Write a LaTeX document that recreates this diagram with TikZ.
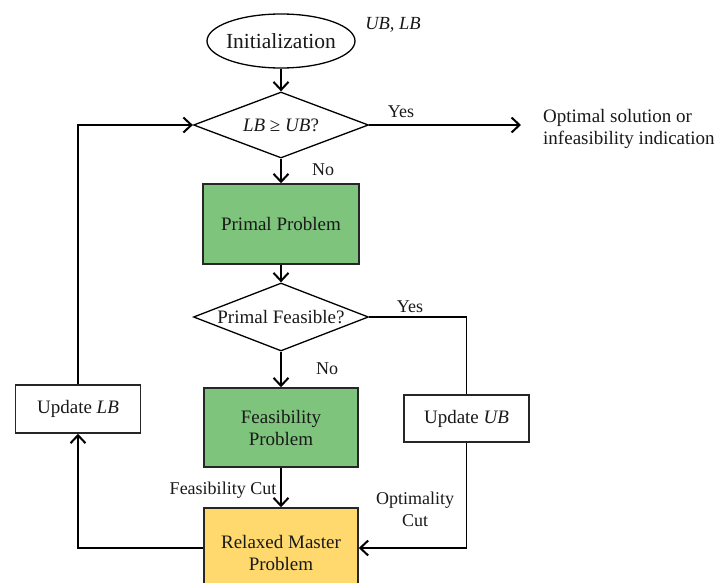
\documentclass[tikz,border=0pt]{standalone}
\usepackage{fontspec}
\setmainfont{Liberation Serif}
\usetikzlibrary{shapes.geometric,arrows.meta}
\definecolor{boxgreen}{RGB}{126,196,124}
\definecolor{boxyellow}{RGB}{255,217,110}
\begin{document}
\begin{tikzpicture}[x=1pt,y=-1pt,
  txt/.style={font=\fontsize{19}{22}\selectfont, text=black!90, inner sep=0pt, align=center},
  lbl/.style={font=\fontsize{18}{21}\selectfont, text=black!90, inner sep=0pt},
  boxstyle/.style={draw=black!85, line width=1.5pt, rectangle, inner sep=0pt},
  dia/.style={draw=black, line width=1.3pt, diamond, inner sep=0pt},
  conn/.style={draw=black, line width=1.4pt},
  arr/.style={conn, -{Straight Barb[length=8pt,width=15pt,line width=2pt]}}
]
\useasboundingbox (0,0) rectangle (715,583);
\fill[white] (0,0) rectangle (715,583);

% nodes
\node[draw=black, line width=1.3pt, ellipse, minimum width=148pt, minimum height=54pt, inner sep=0pt] (init) at (281,41) {};
\node[txt, font=\fontsize{21.5}{24}\selectfont] at (init) {Initialization};
\node[lbl, font=\fontsize{18.5}{21}\selectfont\itshape] (ublb) at (393,25) {UB, LB};

\node[dia, minimum width=175pt, minimum height=66pt] (d1) at (281,125) {};
\node[txt] at (d1) {\textit{LB} ≥ \textit{UB}?};

\node[boxstyle, fill=boxgreen, minimum width=156pt, minimum height=80pt] (primal) at (281,224) {};
\node[txt] at (primal) {Primal Problem};

\node[dia, minimum width=175pt, minimum height=68pt] (d2) at (281,317) {};
\node[txt] at (d2) {Primal Feasible?};

\node[boxstyle, fill=boxgreen, minimum width=154pt, minimum height=79pt] (feas) at (281,427.5) {};
\node[txt] at (feas) {Feasibility\\Problem};

\node[boxstyle, fill=boxyellow, minimum width=154pt, minimum height=80pt] (relax) at (281,548) {};
\node[txt] at (281,553) {Relaxed Master\\Problem};

\node[boxstyle, fill=white, minimum width=125pt, minimum height=48pt] (ulb) at (78,409) {};
\node[txt] at (ulb) {Update \textit{LB}};

\node[boxstyle, fill=white, minimum width=125pt, minimum height=47pt] (uub) at (466.5,418.5) {};
\node[txt] at (uub) {Update \textit{UB}};

\coordinate (out) at (521,125);
\node[txt, align=left, anchor=west] (optsol) at (543,129) {Optimal solution or\\infeasibility indication};

% connectors
\draw[arr] (init.south) -- (d1.north);
\draw[arr] (d1.east) -- (out);
\draw[arr] (d1.south) -- (primal.north);
\draw[arr] (primal.south) -- (d2.north);
\draw[conn] (d2.east) -| (uub.north);
\draw[arr] (d2.south) -- (feas.north);
\draw[arr] (feas.south) -- (relax.north);
\draw[arr] (uub.south) |- (relax.east);
\draw[arr] (relax.west) -| (ulb.south);
\draw[arr] (ulb.north) |- (d1.west);

% labels
\node[lbl] at (401,112) {Yes};
\node[lbl] at (323,170) {No};
\node[lbl] at (410,307) {Yes};
\node[lbl] at (327,369) {No};
\node[lbl] at (223,490) {Feasibility Cut};
\node[lbl, align=center, font=\fontsize{18}{22}\selectfont] at (415,509) {Optimality\\Cut};
\end{tikzpicture}
\end{document}
